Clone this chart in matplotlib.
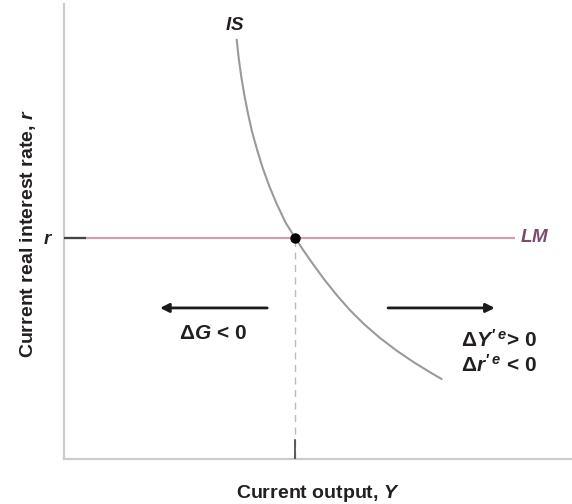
import numpy as np
import matplotlib
matplotlib.use('Agg')
import matplotlib.pyplot as plt

plt.rcParams['font.family'] = ['Liberation Sans', 'DejaVu Sans']
plt.rcParams['font.weight'] = 'bold'
plt.rcParams['mathtext.fontset'] = 'custom'
plt.rcParams['mathtext.rm'] = 'Liberation Sans:bold'
plt.rcParams['mathtext.it'] = 'Liberation Sans:italic:bold'
plt.rcParams['mathtext.bf'] = 'Liberation Sans:bold'

# IS curve (output, interest rate)
is_y = [3.40, 3.44, 3.49, 3.55, 3.62, 3.70, 3.80, 3.91, 4.04, 4.19, 4.36, 4.55,
        4.71, 4.91, 5.12, 5.37, 5.63, 5.91, 6.22, 6.55, 6.88, 7.20, 7.43]
is_r = [9.21, 8.80, 8.40, 8.00, 7.60, 7.20, 6.80, 6.40, 6.00, 5.60, 5.20, 4.86,
        4.59, 4.27, 3.95, 3.60, 3.27, 2.96, 2.66, 2.38, 2.13, 1.91, 1.76]

# LM line and equilibrium
lm_r = 4.86
lm_end = 8.88
eq_y = 4.55

# shift arrows (start, end) at height arrow_r
arrow_r = 3.32
left_arrow = (4.00, 1.89)
right_arrow = (6.38, 8.48)

text_col = '#231f20'
lm_col = '#c9a2b6'
lm_text_col = '#7b4b6b'
curve_col = '#9a9a9a'
axis_col = '#cccccc'
stub_col = '#444444'

fig = plt.figure(figsize=(5.72, 5.04), dpi=100)
ax = fig.add_axes([64/572, 45/504, 508/572, 455/504])
ax.set_xlim(0, 10)
ax.set_ylim(0, 10)

for side in ['top', 'right']:
    ax.spines[side].set_visible(False)
for side in ['left', 'bottom']:
    ax.spines[side].set_color(axis_col)
    ax.spines[side].set_linewidth(1.6)

# LM
ax.plot([0, lm_end], [lm_r, lm_r], color=lm_col, lw=1.6, solid_capstyle='butt')
ax.plot([0, 0.43], [lm_r, lm_r], color=stub_col, lw=1.6, solid_capstyle='butt', zorder=3)
ax.text(lm_end + 0.1, lm_r, r'$\mathit{LM}$', color=lm_text_col, fontsize=13.5,
        ha='left', va='center')

# IS
ax.plot(is_y, is_r, color=curve_col, lw=1.5)
ax.text(is_y[0] - 0.04, 9.52, r'$\mathit{IS}$', color=text_col, fontsize=13.5,
        ha='center', va='center')

# equilibrium
ax.plot([eq_y, eq_y], [0, lm_r], color='#bbbbbb', lw=1.0, ls=(0, (5, 4)))
ax.plot([eq_y, eq_y], [0, 0.42], color=stub_col, lw=1.2, zorder=3)
ax.plot(eq_y, lm_r, 'o', color='black', ms=6.5, zorder=5)

ax.set_xticks([])
ax.set_yticks([lm_r])
ax.set_yticklabels([r'$\mathit{r}$'], fontsize=13.5, color=text_col)
ax.tick_params(axis='y', length=0, pad=8)

# arrows
for a in [left_arrow, right_arrow]:
    ax.annotate('', xy=(a[1], arrow_r), xytext=(a[0], arrow_r),
                arrowprops=dict(arrowstyle='-|>', color='#1a1a1a', lw=2.0,
                                mutation_scale=13, shrinkA=0, shrinkB=0))

ax.text(2.93, 2.75, r'$\Delta\mathit{G}$ < 0', color=text_col, fontsize=15,
        ha='center', va='center')
ax.text(7.81, 2.62, r"$\Delta\mathit{Y}'^{\,\mathit{e}}$> 0", color=text_col, fontsize=15,
        ha='left', va='center')
ax.text(7.81, 2.07, r"$\Delta\mathit{r}'^{\,\mathit{e}}$ < 0", color=text_col, fontsize=15,
        ha='left', va='center')

ax.set_xlabel(r'Current output, $\mathit{Y}$', fontsize=14, fontweight='bold',
              color=text_col, labelpad=17)
ax.set_ylabel(r'Current real interest rate, $\mathit{r}$', fontsize=14, fontweight='bold',
              color=text_col)
ax.yaxis.set_label_coords(-0.052, 0.495)

fig.savefig('out.png', dpi=100)
